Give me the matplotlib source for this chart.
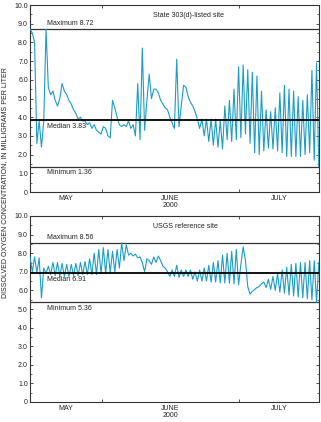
import matplotlib
matplotlib.use('Agg')
import matplotlib.pyplot as plt
import matplotlib.dates as mdates
from matplotlib.ticker import MultipleLocator, FuncFormatter
import pandas as pd

plt.rcParams['font.family'] = ['Liberation Sans', 'DejaVu Sans']

# ---------------- data (12-hourly readings, starting 2000-05-16 08:00) ----------------
start_time = '2000-05-16 08:00'
end_time = '2000-07-18 09:00'

state_do = [
    8.72, 8.5, 8.0, 2.6, 3.8, 2.4, 3.8, 8.7, 5.6, 5.2,
    5.4, 4.9, 4.6, 5.0, 5.8, 5.4, 5.2, 4.9, 4.7, 4.4,
    4.2, 3.9, 4.0, 3.8, 3.8, 3.6, 3.7, 3.4, 3.6, 3.3,
    3.2, 3.1, 3.5, 3.4, 3.0, 2.9, 4.9, 4.5, 4.0, 3.6,
    3.5, 3.6, 3.5, 3.8, 3.4, 3.6, 3.0, 5.8, 2.8, 7.7,
    3.3, 4.9, 6.3, 5.0, 5.5, 5.5, 5.3, 4.9, 4.7, 4.5,
    4.4, 4.0, 3.7, 3.4, 7.1, 3.5, 4.6, 5.7, 5.6, 5.1,
    4.8, 4.6, 4.3, 3.9, 3.4, 3.9, 3.0, 3.9, 2.7, 3.9,
    2.5, 3.9, 2.4, 3.8, 2.3, 4.6, 2.8, 4.9, 2.7, 5.5,
    2.8, 6.7, 2.9, 6.8, 3.1, 6.55, 2.6, 6.4, 2.1, 6.2,
    2.0, 5.4, 2.2, 4.4, 2.35, 4.3, 2.3, 4.5, 2.2, 5.3,
    2.1, 5.7, 1.9, 5.5, 1.9, 5.4, 1.9, 5.1, 1.9, 4.9,
    2.0, 5.2, 2.1, 6.5, 1.7, 6.9, 1.36,
]

usgs_do = [
    7.8, 7.0, 7.8, 6.95, 7.75, 5.6, 7.2, 6.9, 7.3, 6.85,
    7.5, 6.8, 7.5, 6.75, 7.45, 6.75, 7.4, 6.75, 7.4, 6.8,
    7.45, 6.8, 7.5, 6.85, 7.55, 6.85, 7.7, 6.85, 8.0, 6.85,
    8.2, 6.9, 8.3, 6.9, 8.2, 6.95, 8.1, 7.0, 8.2, 7.2,
    8.56, 7.6, 8.45, 7.9, 8.0, 7.85, 7.95, 7.75, 7.8, 7.5,
    7.0, 7.7, 7.6, 7.4, 7.8, 7.5, 7.85, 7.6, 7.3, 7.2,
    7.0, 6.75, 7.1, 6.75, 7.35, 6.7, 7.1, 6.75, 7.1, 6.75,
    7.1, 6.6, 7.0, 6.5, 7.1, 6.5, 7.2, 6.5, 7.35, 6.45,
    7.5, 6.45, 7.6, 6.4, 7.9, 6.4, 8.0, 6.4, 8.1, 6.35,
    8.2, 6.3, 7.4, 8.35, 7.6, 6.2, 5.8, 5.95, 6.05, 6.15,
    6.2, 6.35, 6.45, 6.15, 6.6, 6.05, 6.75, 6.0, 6.9, 5.9,
    7.1, 5.85, 7.25, 5.75, 7.4, 5.7, 7.45, 5.65, 7.5, 5.6,
    7.5, 5.55, 7.6, 5.5, 7.6, 5.36, 7.5,
]

state_stats = {'Maximum': 8.72, 'Median': 3.83, 'Minimum': 1.36}
usgs_stats = {'Maximum': 8.56, 'Median': 6.91, 'Minimum': 5.36}

panel_titles = ['State 303(d)-listed site', 'USGS reference site']
month_labels = ['MAY', 'JUNE\n2000', 'JULY']
month_bounds = ['2000-06-01', '2000-07-01']
y_label = 'DISSOLVED OXYGEN CONCENTRATION, IN MILLIGRAMS PER LITER'

# ---------------- figure ----------------
W, H = 321, 422
fig = plt.figure(figsize=(W / 100, H / 100), dpi=100)
ax1 = fig.add_axes([30 / W, 1 - 192 / H, 289 / W, 187 / H])
ax2 = fig.add_axes([30 / W, 1 - 402 / H, 289 / W, 186 / H])

line_color = '#1d9cc6'
text_color = '#222222'
t0 = pd.Timestamp(start_time)
t1 = pd.Timestamp(end_time)
bounds = [pd.Timestamp(b) for b in month_bounds]
label_pos = [t0 + (bounds[0] - t0) / 2,
             bounds[0] + (bounds[1] - bounds[0]) / 2,
             bounds[1] + (t1 - bounds[1]) / 2]

for ax, values, stats, title in [(ax1, state_do, state_stats, panel_titles[0]),
                                 (ax2, usgs_do, usgs_stats, panel_titles[1])]:
    times = pd.date_range(start_time, periods=len(values), freq='12h')
    ax.plot(times, values, color=line_color, lw=0.8, zorder=3)
    ax.axhline(stats['Maximum'], color='#333333', lw=0.9, zorder=2)
    ax.axhline(stats['Median'], color='black', lw=1.3, zorder=4)
    ax.axhline(stats['Minimum'], color='#333333', lw=0.9, zorder=2)

    ax.annotate(f"Maximum {stats['Maximum']:.2f}", xy=(0.058, stats['Maximum']),
                xycoords=('axes fraction', 'data'), xytext=(0, 1.5),
                textcoords='offset points', va='bottom', ha='left',
                fontsize=5, color=text_color)
    ax.annotate(f"Median {stats['Median']:.2f}", xy=(0.058, stats['Median']),
                xycoords=('axes fraction', 'data'), xytext=(0, -2),
                textcoords='offset points', va='top', ha='left',
                fontsize=5, color=text_color)
    ax.annotate(f"Minimum {stats['Minimum']:.2f}", xy=(0.058, stats['Minimum']),
                xycoords=('axes fraction', 'data'), xytext=(0, -2),
                textcoords='offset points', va='top', ha='left',
                fontsize=5, color=text_color)
    ax.text(0.424, 0.945, title, transform=ax.transAxes, fontsize=5,
            color=text_color, ha='left', va='center')

    ax.set_xlim(t0, t1)
    ax.set_ylim(0, 10)
    ax.yaxis.set_major_locator(MultipleLocator(1))
    ax.yaxis.set_minor_locator(MultipleLocator(0.5))
    ax.yaxis.set_major_formatter(FuncFormatter(lambda v, p: '0' if v == 0 else f'{v:.1f}'))
    ax.set_xticks(bounds)
    ax.set_xticklabels([])
    ax.xaxis.set_minor_locator(plt.NullLocator())
    ax.tick_params(axis='both', which='both', direction='in', top=True, right=True,
                   labelsize=5, labelcolor=text_color, color='#333333', pad=1.5)
    ax.tick_params(which='major', length=2.5, width=0.6)
    ax.tick_params(which='minor', length=1.5, width=0.5)
    for s in ax.spines.values():
        s.set_linewidth(0.8)
        s.set_color('#333333')

    for pos, lab in zip(label_pos, month_labels):
        ax.annotate(lab, xy=(pos, 0), xycoords=('data', 'axes fraction'),
                    xytext=(0, -2), textcoords='offset points', ha='center', va='top',
                    fontsize=5, color=text_color, linespacing=1.0)

fig.text(0.013, 0.567, y_label, rotation=90, ha='center', va='center',
         fontsize=5, color=text_color)

fig.savefig('out.png', dpi=100)
